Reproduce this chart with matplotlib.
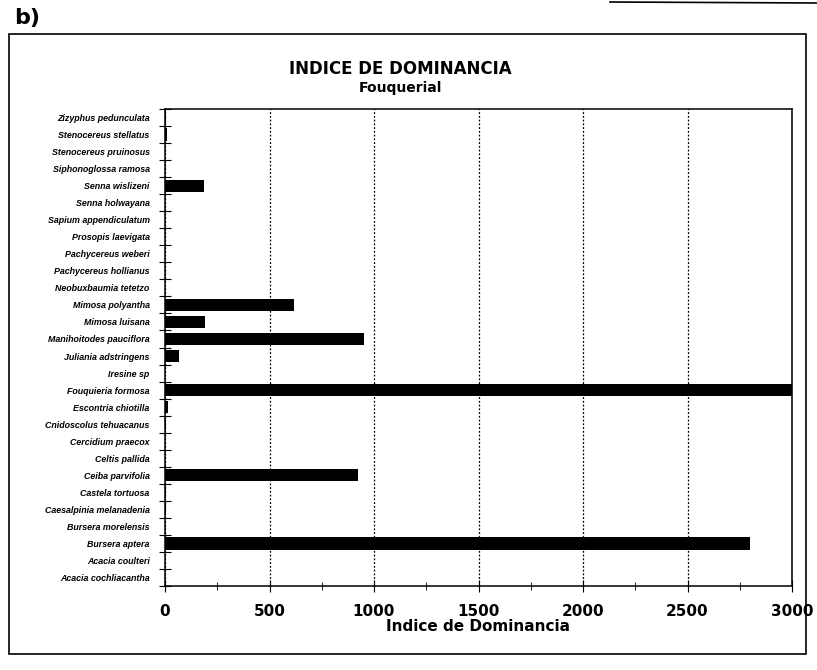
import matplotlib.pyplot as plt
from matplotlib import font_manager
from matplotlib.lines import Line2D
from matplotlib.patches import Rectangle
from matplotlib.ticker import MultipleLocator

# species, listed from bottom to top of the chart
species = [
    "Acacia cochliacantha", "Acacia coulteri", "Bursera aptera",
    "Bursera morelensis", "Caesalpinia melanadenia", "Castela tortuosa",
    "Ceiba parvifolia", "Celtis pallida", "Cercidium praecox",
    "Cnidoscolus tehuacanus", "Escontria chiotilla", "Fouquieria formosa",
    "Iresine sp", "Juliania adstringens", "Manihoitodes pauciflora",
    "Mimosa luisana", "Mimosa polyantha", "Neobuxbaumia tetetzo",
    "Pachycereus hollianus", "Pachycereus weberi", "Prosopis laevigata",
    "Sapium appendiculatum", "Senna holwayana", "Senna wislizeni",
    "Siphonoglossa ramosa", "Stenocereus pruinosus", "Stenocereus stellatus",
    "Zizyphus pedunculata",
]
dominancia = [
    0, 0, 2800,
    0, 6, 6,
    925, 0, 0,
    5, 15, 3010,
    0, 65, 950,
    190, 615, 0,
    0, 0, 0,
    0, 0, 185,
    0, 0, 8,
    4,
]

x_ticks = [0, 500, 1000, 1500, 2000, 2500, 3000]

# narrow face for the species names if it is there
names = {f.name for f in font_manager.fontManager.ttflist}
if "Liberation Sans Narrow" in names:
    label_font = ["Liberation Sans Narrow", "DejaVu Sans"]
    label_size = 7.4
else:
    label_font = ["Liberation Sans", "DejaVu Sans"]
    label_size = 6.4

fig = plt.figure(figsize=(8.17, 6.70), dpi=100)

# page frame, panel letter and the rule left at the top of the scan
fig.patches.append(Rectangle((9 / 817, 1 - 654 / 670), 797 / 817, 620 / 670,
                             transform=fig.transFigure, fill=False,
                             edgecolor="black", linewidth=1.2))
fig.lines.append(Line2D([610 / 817, 1.0], [1 - 2 / 670, 1 - 3 / 670],
                        transform=fig.transFigure, color="black", linewidth=1.2))
fig.text(14 / 817, 1 - 18 / 670, "b)", fontsize=16, fontweight="bold",
         va="center", ha="left")

ax = fig.add_axes([165 / 817, 1 - 586 / 670, 627 / 817, 477 / 670])
ypos = list(range(len(species)))
ax.barh(ypos, dominancia, height=0.72, color="black", align="center")

ax.set_xlim(0, 3000)
ax.set_ylim(-0.5, len(species) - 0.5)
ax.set_xticks(x_ticks)
ax.xaxis.set_minor_locator(MultipleLocator(250))
ax.set_xticklabels([str(v) for v in x_ticks], fontsize=11, fontweight="bold")
ax.tick_params(axis="x", which="major", direction="inout", length=8, pad=9)
ax.tick_params(axis="x", which="minor", direction="inout", length=6)

# category labels sit between the tick marks
ax.set_yticks([y - 0.5 for y in ypos] + [len(species) - 0.5])
ax.set_yticklabels([])
ax.set_yticks(ypos, minor=True)
ax.set_yticklabels(species, minor=True, fontsize=label_size, fontstyle="italic",
                   fontweight="bold", family=label_font)
ax.tick_params(axis="y", which="major", direction="inout", length=8)
ax.tick_params(axis="y", which="minor", length=0, pad=11)

ax.grid(axis="x", which="major", linestyle=(0, (1.5, 1.5)), color="black",
        linewidth=0.9)
ax.set_axisbelow(True)
for s in ax.spines.values():
    s.set_linewidth(1.1)

ax.set_xlabel("Indice de Dominancia", fontsize=11, fontweight="bold", labelpad=0)
fig.text(0.49, 1 - 69 / 670, "INDICE DE DOMINANCIA", fontsize=12,
         fontweight="bold", ha="center", va="center")
fig.text(0.49, 1 - 88 / 670, "Fouquerial", fontsize=10, fontweight="bold",
         ha="center", va="center")

fig.savefig("out.png", dpi=100)
